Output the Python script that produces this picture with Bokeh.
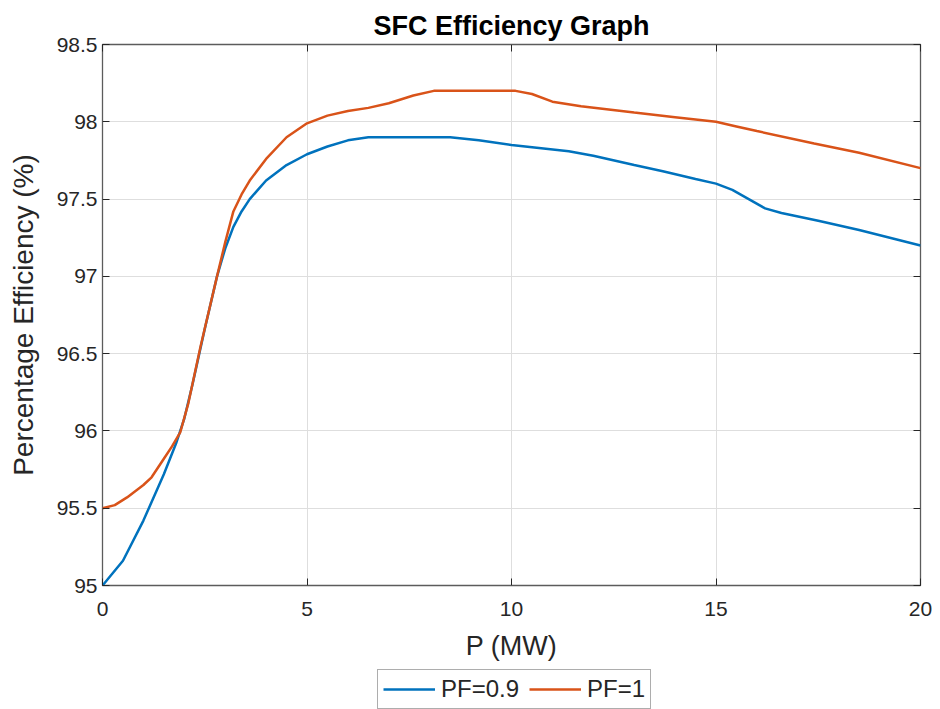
from bokeh.plotting import figure
from bokeh.layouts import column
from bokeh.models import FixedTicker, LinearAxis, Legend, LegendItem, Range1d, CustomJSTickFormatter
from bokeh.embed import file_html
from bokeh.resources import INLINE

# ---- data ----
p_pf09 = [0, 0.5, 1.0, 1.5, 1.8, 2.0, 2.2, 2.5, 2.8, 3.0, 3.2, 3.4, 3.6, 4.0, 4.5, 5.0,
          5.5, 6.0, 6.5, 8.5, 9.2, 10.0, 11.4, 12.0, 13.0, 13.7, 14.5, 15.0, 15.4, 15.8,
          16.2, 16.6, 17.5, 18.5, 20]
eff_pf09 = [95.0, 95.16, 95.42, 95.72, 95.92, 96.08, 96.3, 96.66, 97.0, 97.18, 97.32, 97.42,
            97.5, 97.62, 97.72, 97.79, 97.84, 97.88, 97.9, 97.9, 97.88, 97.85, 97.81, 97.78,
            97.72, 97.68, 97.63, 97.6, 97.56, 97.5, 97.44, 97.41, 97.36, 97.3, 97.2]

p_pf1 = [0, 0.3, 0.6, 1.0, 1.2, 1.5, 1.7, 1.9, 2.1, 2.4, 2.8, 3.0, 3.2, 3.4, 3.6, 4.0,
         4.5, 5.0, 5.5, 6.0, 6.5, 7.0, 7.6, 8.1, 10.1, 10.5, 11.0, 11.7, 13.0, 14.0, 15.0,
         15.5, 16.0, 17.4, 18.5, 20]
eff_pf1 = [95.5, 95.52, 95.57, 95.65, 95.7, 95.82, 95.9, 95.99, 96.18, 96.55, 97.0, 97.22,
           97.42, 97.53, 97.62, 97.76, 97.9, 97.99, 98.04, 98.07, 98.09, 98.12, 98.17, 98.2,
           98.2, 98.18, 98.13, 98.1, 98.06, 98.03, 98.0, 97.97, 97.94, 97.86, 97.8, 97.7]

series_labels = ["PF=0.9", "PF=1"]
series_colors = ["#0072BD", "#D95319"]
x_ticks = [0, 5, 10, 15, 20]
y_ticks = [95, 95.5, 96, 96.5, 97, 97.5, 98, 98.5]
y_tick_labels = ["95", "95.5", "96", "96.5", "97", "97.5", "98", "98.5"]

FONT = "Liberation Sans"
TXT = "#262626"

p = figure(frame_width=818, frame_height=541, output_backend="svg", toolbar_location=None,
           x_range=Range1d(0, 20), y_range=Range1d(95, 98.5),
           min_border_left=102, min_border_right=20, min_border_top=44,
           min_border_bottom=0, title="SFC Efficiency Graph")

p.background_fill_color = "white"
p.border_fill_color = "white"
p.outline_line_color = "#5c5c5c"
p.outline_line_width = 1.3

p.title.text_font = FONT
p.title.text_font_size = "27px"
p.title.text_font_style = "bold"
p.title.text_color = "black"
p.title.align = "center"
p.title.standoff = 8

# axes
xa = p.xaxis[0]
ya = p.yaxis[0]
xa.ticker = FixedTicker(ticks=x_ticks)
ya.ticker = FixedTicker(ticks=y_ticks)
ya.major_label_overrides = {t: l for t, l in zip(y_ticks, y_tick_labels)}
xa.axis_label = "P (MW)"
ya.axis_label = "Percentage Efficiency (%)"
for ax in (xa, ya):
    ax.axis_line_color = None
    ax.major_tick_in = 7
    ax.major_tick_out = 0
    ax.major_tick_line_color = TXT
    ax.minor_tick_line_color = None
    ax.major_label_text_font = FONT
    ax.major_label_text_font_size = "21px"
    ax.major_label_text_color = TXT
    ax.axis_label_text_font = FONT
    ax.axis_label_text_font_style = "normal"
    ax.axis_label_text_color = TXT
xa.axis_label_text_font_size = "27px"
ya.axis_label_text_font_size = "28px"
xa.major_label_standoff = 16
xa.axis_label_standoff = 12
ya.major_label_standoff = 5
ya.axis_label_standoff = 15

# box ticks on the right and top (no labels)
blank = CustomJSTickFormatter(code="return ''")
rax = LinearAxis(ticker=FixedTicker(ticks=y_ticks), axis_line_color=None,
                 major_tick_in=7, major_tick_out=0, major_tick_line_color=TXT,
                 minor_tick_line_color=None, formatter=blank, major_label_standoff=0)
tax = LinearAxis(ticker=FixedTicker(ticks=x_ticks), axis_line_color=None,
                 major_tick_in=7, major_tick_out=0, major_tick_line_color=TXT,
                 minor_tick_line_color=None, formatter=blank, major_label_standoff=0)
p.add_layout(rax, "right")
p.add_layout(tax, "above")

p.xgrid.ticker = FixedTicker(ticks=x_ticks)
p.ygrid.ticker = FixedTicker(ticks=y_ticks)
for g in (p.xgrid, p.ygrid):
    g.grid_line_color = "#dedede"
    g.grid_line_width = 1

p.line(p_pf09, eff_pf09, line_color=series_colors[0], line_width=2.5)
p.line(p_pf1, eff_pf1, line_color=series_colors[1], line_width=2.5)

# ---- legend strip below the chart (its lines lie outside its view) ----
lf = figure(width=940, height=46, output_backend="svg", toolbar_location=None,
            x_range=Range1d(100, 101), y_range=Range1d(0, 1),
            x_axis_type=None, y_axis_type=None,
            min_border_left=0, min_border_right=0, min_border_top=0, min_border_bottom=0)
lf.outline_line_color = None
lf.xgrid.visible = False
lf.ygrid.visible = False
l1 = lf.line(p_pf09, eff_pf09, line_color=series_colors[0], line_width=2.5)
l2 = lf.line(p_pf1, eff_pf1, line_color=series_colors[1], line_width=2.5)

legend = Legend(items=[LegendItem(label=series_labels[0], renderers=[l1]),
                       LegendItem(label=series_labels[1], renderers=[l2])],
                orientation="horizontal", location=(275, 0))
legend.label_text_font = FONT
legend.label_text_font_size = "24px"
legend.label_text_color = TXT
legend.label_height = 24
legend.glyph_height = 20
legend.glyph_width = 52
legend.label_standoff = 6
legend.spacing = 10
legend.padding = 5
legend.margin = 0
legend.border_line_color = "#5c5c5c"
legend.border_line_width = 1.3
legend.background_fill_color = "white"
lf.add_layout(legend, "center")

layout = column(p, lf, spacing=0)
open("out.html", "w").write(file_html(layout, INLINE))
